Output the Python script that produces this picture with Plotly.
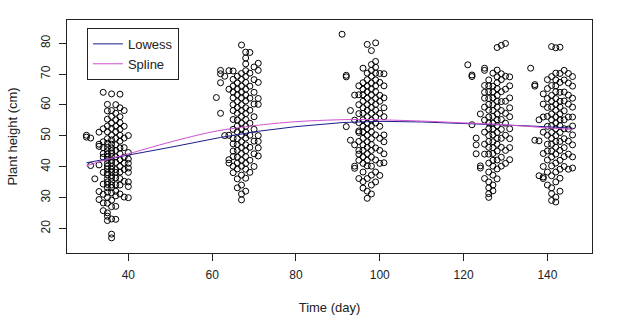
import plotly.graph_objects as go

days_c1 = [30, 31, 32, 33, 34, 35, 36, 37, 38, 39, 40]
heights_c1 = [
    [50.2, 49.6],
    [49.3, 40.4],
    [36.1],
    [51.2, 46.6, 40.6, 32.0, 29.4, 47.3],
    [64.1, 52.3, 48.1, 46.2, 44.3, 43.1, 38.2, 34.4, 31.1, 28.3, 25.8],
    [60.2, 58.1, 55.4, 53.2, 51.3, 49.1, 47.6, 46.3, 45.2, 44.1, 43.2, 42.4, 41.1, 40.2,
     39.3, 38.1, 37.4, 36.2, 35.1, 34.3, 33.2, 31.8, 30.1, 28.2, 25.1, 24.0, 22.6],
    [63.6, 58.2, 56.3, 54.1, 52.4, 50.2, 48.7, 47.3, 46.1, 45.2, 44.4, 43.3, 42.1, 41.3,
     40.1, 39.2, 38.4, 37.1, 36.3, 35.2, 34.1, 33.3, 31.6, 29.2, 27.1, 23.1, 18.2, 17.0],
    [60.1, 57.3, 55.2, 53.1, 51.4, 49.2, 47.1, 45.3, 43.2, 41.4, 39.1, 38.2, 36.4, 34.2,
     32.1, 30.6, 27.2, 23.0],
    [63.5, 59.1, 56.2, 54.3, 52.1, 50.2, 48.3, 46.1, 44.2, 42.3, 40.1, 38.3, 36.2, 34.1, 31.2],
    [58.2, 53.1, 49.3, 46.2, 43.1, 41.2, 39.1, 35.3, 30.2],
    [50.1, 44.6, 42.5, 41.1, 39.6, 38.2, 35.1, 33.6, 30.0],
]

days_c2 = [61, 62, 63, 64, 65, 66, 67, 68, 69, 70, 71]
heights_c2 = [
    [62.4],
    [70.1, 71.2, 57.3, 67.2],
    [50.1, 69.3],
    [41.2, 42.3, 50.2, 65.1, 71.1],
    [38.1, 40.2, 43.3, 45.1, 47.4, 49.2, 52.1, 55.3, 58.2, 60.1, 62.3, 64.2, 66.1, 68.3, 71.0],
    [33.2, 36.1, 39.3, 41.2, 43.1, 45.3, 47.2, 49.1, 51.3, 53.2, 55.1, 57.3, 59.2, 61.1,
     63.3, 65.2, 67.1, 69.3],
    [29.3, 31.2, 34.1, 37.3, 40.2, 42.1, 44.3, 46.2, 48.1, 50.3, 52.2, 54.1, 56.3, 58.2,
     60.1, 62.3, 64.2, 66.1, 68.3, 70.2, 79.4],
    [32.1, 36.3, 39.2, 41.1, 43.3, 45.2, 47.1, 49.3, 51.2, 53.1, 55.3, 57.2, 59.1, 61.3,
     63.2, 65.1, 67.3, 69.2, 71.1, 73.3, 77.1, 75.2],
    [38.2, 42.1, 46.3, 50.2, 54.1, 58.3, 62.2, 66.1, 70.3, 77.0],
    [40.1, 44.2, 48.3, 52.1, 56.2, 60.3, 64.1, 68.2, 72.3],
    [43.5, 46.1, 48.2, 50.1, 60.2, 62.1, 67.3, 71.2, 73.5],
]

days_c3 = [91, 92, 93, 94, 95, 96, 97, 98, 99, 100, 101]
heights_c3 = [
    [82.9],
    [69.1, 69.6, 53.0],
    [48.6, 58.2],
    [47.1, 39.5, 40.2, 55.1, 63.2],
    [36.2, 42.1, 45.3, 48.2, 51.1, 54.3, 57.2, 60.1, 63.3, 66.2, 51.6, 44.1],
    [33.1, 35.2, 38.3, 41.1, 43.2, 45.3, 47.1, 49.2, 51.3, 53.1, 55.2, 57.3, 59.1, 61.2,
     63.3, 65.1, 67.2, 71.9],
    [29.8, 32.1, 36.2, 40.3, 42.1, 44.2, 46.3, 48.1, 50.2, 52.3, 54.1, 56.2, 58.3, 60.1,
     62.2, 64.3, 66.1, 68.2, 70.3, 79.6],
    [31.2, 34.1, 37.3, 40.2, 43.1, 45.3, 47.2, 49.1, 51.3, 53.2, 55.1, 57.3, 59.2, 61.1,
     63.3, 65.2, 67.1, 69.3, 71.2, 73.1, 77.6],
    [35.1, 38.3, 42.2, 46.1, 50.3, 54.2, 56.1, 58.3, 60.2, 62.1, 64.3, 66.2, 68.1, 70.3,
     72.2, 74.1, 80.1],
    [37.2, 41.1, 45.3, 49.2, 53.1, 57.3, 61.2, 63.1, 67.3, 70.2],
    [41.3, 44.2, 48.1, 50.3, 56.2, 59.1, 62.3, 66.2, 70.1],
]

days_c4 = [121, 122, 123, 124, 125, 126, 127, 128, 129, 130, 131]
heights_c4 = [
    [73.0],
    [69.2, 69.7, 53.6],
    [49.3, 47.1, 44.2],
    [39.6, 40.3, 57.1],
    [36.2, 44.1, 47.3, 51.2, 55.1, 59.3, 62.2, 64.1, 66.3, 71.2, 71.9],
    [30.1, 31.3, 33.2, 35.1, 38.3, 41.2, 44.1, 46.3, 48.2, 50.1, 52.3, 54.2, 56.1, 58.3,
     60.2, 62.1, 64.3, 66.2, 68.1],
    [32.2, 34.1, 37.3, 40.2, 42.1, 44.3, 46.2, 48.1, 50.3, 52.2, 54.1, 56.3, 58.2, 60.1,
     62.3, 64.2, 66.1, 70.3],
    [36.1, 39.3, 42.2, 45.1, 47.3, 49.2, 51.1, 53.3, 55.2, 57.1, 59.3, 61.2, 63.1, 65.3,
     67.2, 69.1, 71.3, 78.6],
    [40.2, 43.1, 46.3, 49.2, 52.1, 55.3, 58.2, 61.1, 64.3, 68.2, 70.1, 79.3],
    [41.1, 45.3, 50.2, 54.1, 57.3, 61.2, 65.1, 69.3, 79.9],
    [42.3, 46.2, 49.1, 52.3, 56.2, 59.1, 62.3, 66.2, 69.1],
]

days_c5 = [136, 137, 138, 139, 140, 141, 142, 143, 144, 145, 146]
heights_c5 = [
    [71.9],
    [66.1, 66.6, 48.6],
    [48.4, 55.2, 37.1],
    [36.2, 36.7, 40.1, 44.3, 51.2, 56.1, 60.3, 63.6],
    [34.1, 38.3, 42.2, 45.1, 47.3, 50.2, 53.1, 56.3, 59.2, 62.1, 65.3, 68.2],
    [29.1, 31.3, 33.2, 37.1, 40.3, 43.2, 45.1, 47.3, 49.2, 51.1, 53.3, 55.2, 57.1, 59.3,
     61.2, 63.1, 66.3, 69.2, 78.9],
    [28.6, 30.2, 35.1, 38.3, 41.2, 44.1, 46.3, 48.2, 50.1, 52.3, 54.2, 56.1, 58.3, 60.2,
     62.1, 64.3, 66.2, 68.1, 70.3, 78.5],
    [32.1, 36.3, 39.2, 42.1, 45.3, 48.2, 51.1, 53.3, 55.2, 57.1, 59.3, 61.2, 64.1, 67.3,
     70.2, 78.7],
    [40.1, 43.3, 46.2, 49.1, 52.3, 55.2, 58.1, 61.3, 64.2, 68.1, 71.2],
    [39.2, 44.1, 48.3, 52.2, 56.1, 60.3, 63.2, 67.1, 70.2],
    [39.6, 43.2, 47.1, 50.3, 53.2, 56.1, 59.3, 62.2, 66.1, 69.2],
]

# ---- fitted curves ----
lowess_x = [30, 36, 40, 50, 62, 66, 71, 80, 91, 97, 101, 110, 121, 127, 131, 136, 142, 146]
lowess_y = [41.3, 42.8, 43.7, 46.3, 49.5, 50.3, 51.5, 53.0, 54.3, 54.6, 54.7, 54.5, 54.0,
            53.7, 53.5, 53.2, 52.8, 52.5]

spline_x = [30, 35, 40, 50, 60, 66, 70, 80, 90, 97, 100, 110, 120, 127, 135, 140, 146]
spline_y = [40.3, 42.4, 44.2, 48.0, 51.3, 52.6, 53.3, 54.6, 55.2, 55.3, 55.2, 54.8, 54.2,
            53.8, 53.1, 52.6, 52.1]

# ---- build point arrays ----
xs, ys = [], []
for days, heights in [(days_c1, heights_c1), (days_c2, heights_c2), (days_c3, heights_c3),
                      (days_c4, heights_c4), (days_c5, heights_c5)]:
    for d, hs in zip(days, heights):
        for h in hs:
            xs.append(d)
            ys.append(h)

FONT = "Arial, 'Liberation Sans', sans-serif"
INK = "#222222"

fig = go.Figure()
fig.add_trace(go.Scatter(
    x=xs, y=ys, mode="markers", showlegend=False,
    marker=dict(symbol="circle-open", size=6, color="black", line=dict(width=1, color="black")),
    hoverinfo="skip",
))
fig.add_trace(go.Scatter(x=lowess_x, y=lowess_y, mode="lines", name="Lowess",
                         line=dict(color="#1c1c8c", width=1)))
fig.add_trace(go.Scatter(x=spline_x, y=spline_y, mode="lines", name="Spline",
                         line=dict(color="#d050d0", width=1), line_shape="spline"))

axis_common = dict(
    showline=True, mirror=True, linecolor=INK, linewidth=1,
    ticks="outside", ticklen=7, tickcolor=INK, tickwidth=1,
    showgrid=False, zeroline=False, ticklabelstandoff=4,
    tickfont=dict(family=FONT, size=12, color=INK),
    title_font=dict(family=FONT, size=13, color=INK),
)

fig.update_xaxes(range=[25.36, 150.64], tickvals=[40, 60, 80, 100, 120, 140],
                 title_text="Time (day)", title_standoff=21, automargin=False, **axis_common)
fig.update_yaxes(range=[12.1, 87.5], tickvals=[20, 30, 40, 50, 60, 70, 80], tickangle=-90,
                 title_text="Plant height (cm)", title_standoff=18, automargin=False,
                 **axis_common)

fig.update_layout(
    width=628, height=336,
    margin=dict(l=67, r=36, t=20, b=83),
    plot_bgcolor="white", paper_bgcolor="white",
    font=dict(family=FONT, size=12, color=INK),
    legend=dict(x=0.038, y=0.966, xanchor="left", yanchor="top",
                bordercolor=INK, borderwidth=1, bgcolor="white",
                font=dict(family=FONT, size=13, color=INK),
                tracegroupgap=0, itemwidth=30),
)

fig.write_html("out.html")
